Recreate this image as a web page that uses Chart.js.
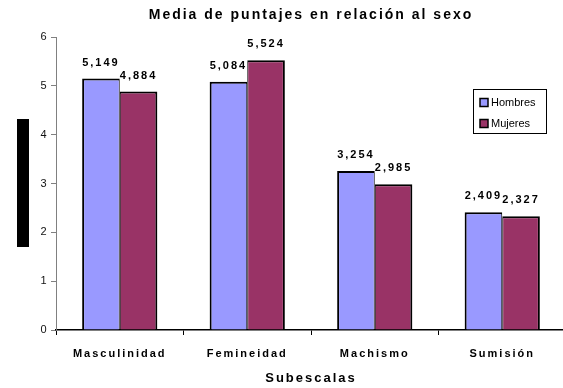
<!DOCTYPE html>
<html><head><meta charset="utf-8">
<script src="https://cdn.jsdelivr.net/npm/chart.js@4"></script>
<style>
html,body{margin:0;padding:0;overflow:hidden;background:#fff;width:563px;height:388px}
#wrap{width:566px;height:388px}
canvas{display:block}
</style></head>
<body><div id="wrap"><canvas id="c" width="566" height="388"></canvas></div>
<script>
const categories = ['Masculinidad', 'Femineidad', 'Machismo', 'Sumisión'];
const seriesNames = ['Hombres', 'Mujeres'];
const hombres = [5.149, 5.084, 3.254, 2.409];
const mujeres = [4.884, 5.524, 2.985, 2.327];
const yMin = 0, yMax = 6, yStep = 1;
const chartTitle = 'Media de puntajes en relación al sexo';
const xTitle = 'Subescalas';
const colors = ['#9999FF', '#993366'];

const FONT = "'Liberation Sans', Arial, sans-serif";
const fmt = v => v.toFixed(3).replace('.', ',');

const spacingPlugin = {
  id: 'spacing',
  beforeDraw(chart) { chart.ctx.letterSpacing = '2px'; }
};

const valueLabels = {
  id: 'valueLabels',
  beforeDatasetsDraw(chart) {
    const ctx = chart.ctx;
    ctx.save();
    ctx.letterSpacing = '2px';
    ctx.font = 'bold 11px ' + FONT;
    ctx.fillStyle = '#000';
    ctx.textAlign = 'center';
    ctx.textBaseline = 'middle';
    chart.data.datasets.forEach((ds, i) => {
      const meta = chart.getDatasetMeta(i);
      meta.data.forEach((bar, j) => {
        ctx.fillText(fmt(ds.data[j]), bar.x, bar.y - 16);
      });
    });
    ctx.restore();
  }
};

const boxLegend = {
  id: 'boxLegend',
  afterDraw(chart) {
    const ctx = chart.ctx;
    ctx.save();
    ctx.letterSpacing = '0px';
    // redacted axis title block
    ctx.fillStyle = '#000';
    ctx.fillRect(17, 119, 12, 128);
    // legend frame
    ctx.fillStyle = '#fff';
    ctx.fillRect(473, 89, 74, 45);
    ctx.strokeStyle = '#000';
    ctx.lineWidth = 1;
    ctx.strokeRect(473.5, 89.5, 73, 44);
    ctx.font = '11px ' + FONT;
    ctx.textBaseline = 'middle';
    ctx.textAlign = 'left';
    chart.data.datasets.forEach((ds, i) => {
      const cy = 102.5 + i * 21;
      ctx.fillStyle = ds.backgroundColor;
      ctx.fillRect(480, cy - 4, 8, 8);
      ctx.lineWidth = 1.5;
      ctx.strokeStyle = '#000';
      ctx.strokeRect(480, cy - 4, 8, 8);
      ctx.fillStyle = '#000';
      ctx.fillText(ds.label, 491, cy);
    });
    ctx.restore();
  }
};

new Chart(document.getElementById('c'), {
  type: 'bar',
  data: {
    labels: categories,
    datasets: [
      { label: seriesNames[0], data: hombres, backgroundColor: colors[0], borderColor: '#000',
        borderWidth: { left: 2, top: 2, right: 1, bottom: 0 }, borderSkipped: false },
      { label: seriesNames[1], data: mujeres, backgroundColor: colors[1], borderColor: '#000',
        borderWidth: { left: 1, top: 2, right: 2, bottom: 0 }, borderSkipped: false }
    ]
  },
  options: {
    responsive: false,
    animation: false,
    devicePixelRatio: 1,
    layout: { padding: { left: 0, right: 0, top: 0, bottom: 0 } },
    datasets: { bar: { categoryPercentage: 0.59, barPercentage: 1.0 } },
    plugins: {
      legend: { display: false },
      tooltip: { enabled: false },
      title: {
        display: true, text: chartTitle, color: '#000', fullSize: false,
        font: { family: FONT, size: 14, weight: 'bold', lineHeight: 1.2 },
        padding: { top: 6.6, bottom: 13.6 }
      }
    },
    scales: {
      x: {
        grid: { display: true, drawOnChartArea: false, drawTicks: true, tickLength: 5, color: '#000', offset: true },
        border: { display: true, color: '#000', width: 1.5 },
        ticks: { color: '#000', font: { family: FONT, size: 11, weight: 'bold' }, padding: 12, maxRotation: 0, autoSkip: false },
        title: { display: true, text: xTitle, color: '#000', font: { family: FONT, size: 13, weight: 'bold', lineHeight: 1.2 }, padding: { top: 0, bottom: 2.2 } },
        afterFit(scale) { scale.height = 58; }
      },
      y: {
        min: yMin, max: yMax,
        grid: { display: true, drawOnChartArea: false, drawTicks: true, tickLength: 5, color: '#808080' },
        border: { display: true, color: '#808080', width: 1 },
        ticks: { stepSize: yStep, color: '#111', font: { family: FONT, size: 11 }, padding: 2.5 },
        afterFit(scale) { scale.width = 56; }
      }
    }
  },
  plugins: [spacingPlugin, valueLabels, boxLegend]
});
</script>
</body></html>
